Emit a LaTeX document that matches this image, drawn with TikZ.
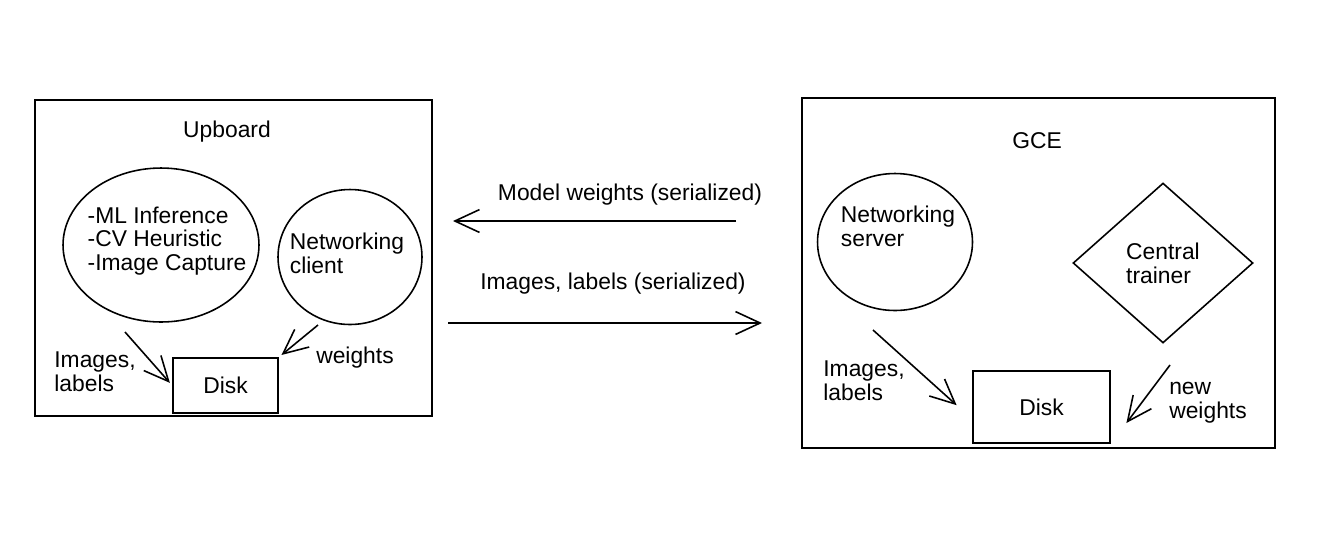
\documentclass[tikz,border=0pt]{standalone}
\usepackage{fontspec}
\setmainfont{Liberation Sans}
\usetikzlibrary{arrows.meta,shapes.geometric}
\begin{document}
\begin{tikzpicture}[x=0.02cm,y=-0.02cm,font=\fontsize{13}{13.5}\selectfont,line width=0.9pt,
    >={Straight Barb[length=14pt,width=13pt]},
    box/.style={draw,rectangle,inner sep=0pt},
    txt/.style={align=left,inner sep=0pt}]
        \useasboundingbox (0,0) rectangle (1328,532);
        \node[box,minimum width=7.94cm,minimum height=6.32cm] (upb) at (233.5,258) {};
        \node (upbt) at (227,132) {Upboard};
        \node[draw,ellipse,minimum width=3.92cm,minimum height=3.08cm] (inf) at (161,245) {};
        \node[txt] (inft) at (167,241) {-ML Inference\\-CV Heuristic\\-Image Capture};
        \node[draw,ellipse,minimum width=2.88cm,minimum height=2.7cm] (cli) at (350,257) {};
        \node[txt] (clit) at (347,253) {Networking\\client};
        \node[box,minimum width=2.1cm,minimum height=1.1cm] (dska) at (225.5,385.5) {Disk};
        \coordinate (infa) at (125,332);
        \draw[->,shorten >=2pt] (infa) -- (dska.west);
        \coordinate (clia) at (318,325);
        \draw[->,shorten >=2pt] (clia) -- (dska.north east);
        \node[txt] (lbla) at (95,372) {Images,\\labels};
        \node (wgt) at (355,358) {weights};
        \coordinate (mwr) at (736,221);
        \coordinate (mwl) at (453,221);
        \draw[->] (mwr) -- (mwl);
        \node (mwt) at (630,195) {Model weights (serialized)};
        \coordinate (iml) at (448,323);
        \coordinate (imr) at (762,323);
        \draw[->] (iml) -- (imr);
        \node (imt) at (613,284) {Images, labels (serialized)};
        \node[box,minimum width=9.46cm,minimum height=7cm] (gce) at (1038.5,273) {};
        \node (gcet) at (1037,141) {GCE};
        \node[draw,ellipse,minimum width=3.1cm,minimum height=2.74cm] (srv) at (895,242) {};
        \node[txt] (srvt) at (898,226) {Networking\\server};
        \node[draw,diamond,inner sep=0pt,minimum width=3.6cm,minimum height=3.2cm,align=left] (trn) at (1163,263) {Central\\trainer};
        \node[box,minimum width=2.74cm,minimum height=1.44cm] (dskb) at (1041.5,407) {Disk};
        \coordinate (srva) at (873,330);
        \draw[->,shorten >=0.42cm] (srva) -- (dskb.190);
        \coordinate (trna) at (1170,365);
        \draw[->,shorten >=0.52cm] (trna) -- (dskb.south east);
        \node[txt] (lblb) at (864,381) {Images,\\labels};
        \node[txt] (nwt) at (1208,403) {new\\weights};
      \end{tikzpicture}
\end{document}
